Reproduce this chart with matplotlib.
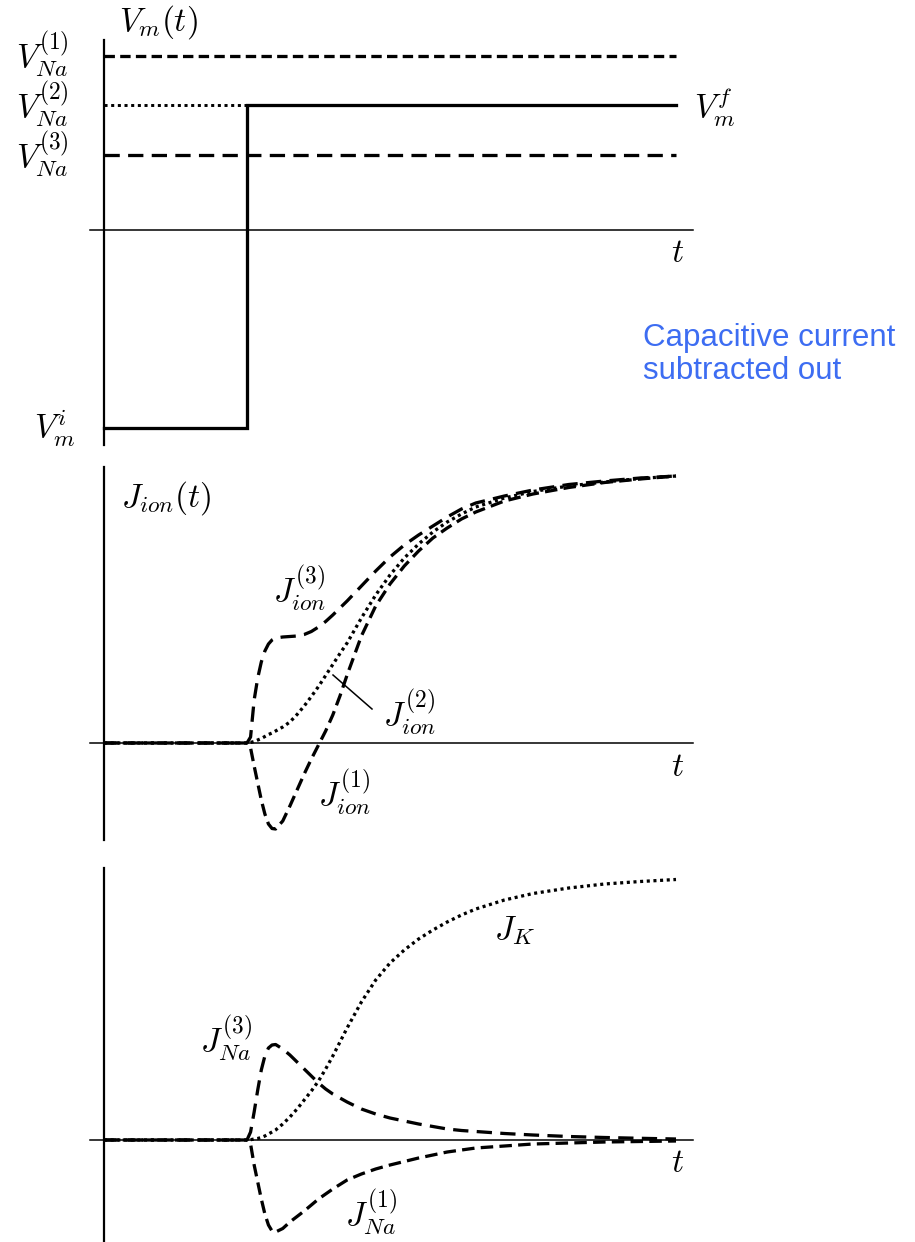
import matplotlib
matplotlib.use("Agg")
import matplotlib.pyplot as plt

plt.rcParams["mathtext.fontset"] = "cm"
plt.rcParams["lines.scale_dashes"] = False

# ---------------- data ----------------
# membrane potential levels (voltage-clamp step at t = 1)
t_step = 1.0
t_end = 4.0
V_Na1 = 1.74
V_Na2 = 1.25
V_Na3 = 0.75
V_f = 1.25
V_i = -1.98

# shared time samples for the currents
t_ion = [0, 1.0, 1.025, 1.05, 1.075, 1.1, 1.125, 1.15, 1.175, 1.2, 1.25, 1.3,
         1.35, 1.4, 1.45, 1.5, 1.55, 1.6, 1.65, 1.7, 1.8, 1.9, 2.0, 2.1, 2.2,
         2.3, 2.4, 2.5, 2.6, 2.8, 3.0, 3.25, 3.5, 3.75, 4.0]

J_ion3 = [0, 0, 0.06, 0.43, 0.65, 0.81, 0.92, 0.99, 1.03, 1.05, 1.06, 1.065,
          1.07, 1.085, 1.115, 1.16, 1.215, 1.28, 1.35, 1.42, 1.57, 1.72, 1.86,
          1.98, 2.08, 2.17, 2.26, 2.34, 2.40, 2.47, 2.53, 2.585, 2.62, 2.65,
          2.67]
J_ion2 = [0, 0, 0.005, 0.015, 0.03, 0.045, 0.065, 0.085, 0.10, 0.12, 0.16,
          0.21, 0.285, 0.37, 0.465, 0.565, 0.675, 0.785, 0.895, 1.00, 1.25,
          1.48, 1.68, 1.85, 1.99, 2.11, 2.21, 2.29, 2.36, 2.45, 2.515, 2.57,
          2.61, 2.645, 2.67]
J_ion1 = [0, 0, -0.05, -0.23, -0.40, -0.57, -0.71, -0.81, -0.855, -0.86,
          -0.78, -0.63, -0.47, -0.31, -0.16, -0.02, 0.12, 0.28, 0.47, 0.68,
          1.07, 1.37, 1.59, 1.77, 1.92, 2.05, 2.15, 2.24, 2.31, 2.42, 2.49,
          2.555, 2.605, 2.64, 2.67]

J_K = [0, 0, 0.003, 0.01, 0.015, 0.025, 0.04, 0.06, 0.08, 0.10, 0.16, 0.23,
       0.31, 0.40, 0.49, 0.59, 0.71, 0.84, 0.98, 1.12, 1.38, 1.60, 1.77, 1.90,
       2.01, 2.10, 2.18, 2.25, 2.31, 2.40, 2.465, 2.52, 2.56, 2.585, 2.605]
J_Na3 = [0, 0, 0.08, 0.28, 0.50, 0.70, 0.84, 0.92, 0.95, 0.955, 0.91, 0.85,
         0.78, 0.71, 0.64, 0.57, 0.51, 0.46, 0.42, 0.38, 0.31, 0.26, 0.22,
         0.19, 0.16, 0.135, 0.11, 0.095, 0.085, 0.065, 0.05, 0.035, 0.025,
         0.017, 0.01]
J_Na1 = [0, 0, -0.04, -0.25, -0.42, -0.59, -0.74, -0.85, -0.91, -0.92,
         -0.885, -0.82, -0.765, -0.71, -0.65, -0.59, -0.54, -0.49, -0.445,
         -0.40, -0.34, -0.29, -0.25, -0.215, -0.18, -0.15, -0.12, -0.10,
         -0.08, -0.06, -0.04, -0.03, -0.02, -0.015, -0.01]

# ---------------- layout ----------------
W, H = 915, 1242
fig = plt.figure(figsize=(W / 100, H / 100), dpi=100)

X0 = 104.0      # pixel column of the time origin
SX = 143.0      # pixels per time unit
SY = 100.0      # pixels per value unit


def make_panel(ytop, ybot, yzero):
    ax = fig.add_axes([0, 1 - ybot / H, 1, (ybot - ytop) / H])
    ax.set_xlim((0 - X0) / SX, (W - X0) / SX)
    ax.set_ylim((yzero - ybot) / SY, (yzero - ytop) / SY)
    ax.axis("off")
    return ax


def px(ax_zero, x, y):
    return (x - X0) / SX, (ax_zero - y) / SY


LW_AX_V = 1.6
LW_AX_H = 1.1
LW = 2.35
DOT = (0, (2.2, 2.6))
DASH_SHORT = (0, (7.5, 3.8))
DASH_LONG = (0, (11.0, 6.0))
DASH_MED = (0, (9.0, 4.5))
FS = 24

# ---------- panel 1: clamp voltage ----------
y0 = 230
ax1 = make_panel(0, 452, y0)
ax1.plot([0, 0], [(y0 - 40) / SY, (y0 - 445) / SY], color="k", lw=LW_AX_V)
ax1.plot([-0.1, 4.12], [0, 0], color="k", lw=LW_AX_H)

ax1.plot([0, t_end], [V_Na1, V_Na1], color="k", lw=LW, ls=DASH_SHORT)
ax1.plot([0, t_step], [V_Na2, V_Na2], color="k", lw=LW * 0.9, ls=DOT)
ax1.plot([0, t_end], [V_Na3, V_Na3], color="k", lw=LW, ls=DASH_LONG)
ax1.plot([0, t_step, t_step, t_end], [V_i, V_i, V_f, V_f], color="k", lw=LW,
         solid_joinstyle="miter")

ax1.text(*px(y0, 158, 22), r"$V_m(t)$", fontsize=FS, ha="center", va="center")
ax1.text(*px(y0, 42, 54), r"$V_{Na}^{(1)}$", fontsize=FS, ha="center", va="center")
ax1.text(*px(y0, 42, 104), r"$V_{Na}^{(2)}$", fontsize=FS, ha="center", va="center")
ax1.text(*px(y0, 42, 154), r"$V_{Na}^{(3)}$", fontsize=FS, ha="center", va="center")
ax1.text(*px(y0, 55, 428), r"$V_m^i$", fontsize=FS, ha="center", va="center")
ax1.text(*px(y0, 715, 108), r"$V_m^f$", fontsize=FS, ha="center", va="center")
ax1.text(*px(y0, 678, 253), r"$t$", fontsize=FS, ha="center", va="center")

ax1.text(*px(y0, 643, 323), "Capacitive current\nsubtracted out",
         fontsize=22.5, family="Liberation Sans", color="#3d6df2",
         ha="left", va="top", linespacing=1.12)

# ---------- panel 2: total ionic current ----------
y0 = 743
ax2 = make_panel(455, 850, y0)
ax2.plot([0, 0], [(y0 - 467) / SY, (y0 - 840) / SY], color="k", lw=LW_AX_V)
ax2.plot([-0.1, 4.12], [0, 0], color="k", lw=LW_AX_H)

ax2.plot(t_ion, J_ion3, color="k", lw=LW, ls=DASH_LONG)
ax2.plot(t_ion, J_ion2, color="k", lw=LW, ls=DOT)
ax2.plot(t_ion, J_ion1, color="k", lw=LW, ls=DASH_MED)

ax2.plot([(333 - X0) / SX, (372 - X0) / SX], [(y0 - 675) / SY, (y0 - 709) / SY],
         color="k", lw=1.1)

ax2.text(*px(y0, 166, 498), r"$J_{ion}(t)$", fontsize=FS, ha="center", va="center")
ax2.text(*px(y0, 300, 588), r"$J_{ion}^{(3)}$", fontsize=FS, ha="center", va="center")
ax2.text(*px(y0, 410, 712), r"$J_{ion}^{(2)}$", fontsize=FS, ha="center", va="center")
ax2.text(*px(y0, 345, 792), r"$J_{ion}^{(1)}$", fontsize=FS, ha="center", va="center")
ax2.text(*px(y0, 678, 766), r"$t$", fontsize=FS, ha="center", va="center")

# ---------- panel 3: Na and K components ----------
y0 = 1140
ax3 = make_panel(855, H, y0)
ax3.plot([0, 0], [(y0 - 868) / SY, (y0 - 1242) / SY], color="k", lw=LW_AX_V)
ax3.plot([-0.1, 4.12], [0, 0], color="k", lw=LW_AX_H)

ax3.plot(t_ion, J_K, color="k", lw=LW, ls=DOT)
ax3.plot(t_ion, J_Na3, color="k", lw=LW, ls=DASH_LONG)
ax3.plot(t_ion, J_Na1, color="k", lw=LW, ls=DASH_MED)

ax3.text(*px(y0, 515, 930), r"$J_K$", fontsize=FS, ha="center", va="center")
ax3.text(*px(y0, 226, 1038), r"$J_{Na}^{(3)}$", fontsize=FS, ha="center", va="center")
ax3.text(*px(y0, 371, 1212), r"$J_{Na}^{(1)}$", fontsize=FS, ha="center", va="center")
ax3.text(*px(y0, 678, 1163), r"$t$", fontsize=FS, ha="center", va="center")

fig.savefig("out.png", dpi=100, facecolor="white")
